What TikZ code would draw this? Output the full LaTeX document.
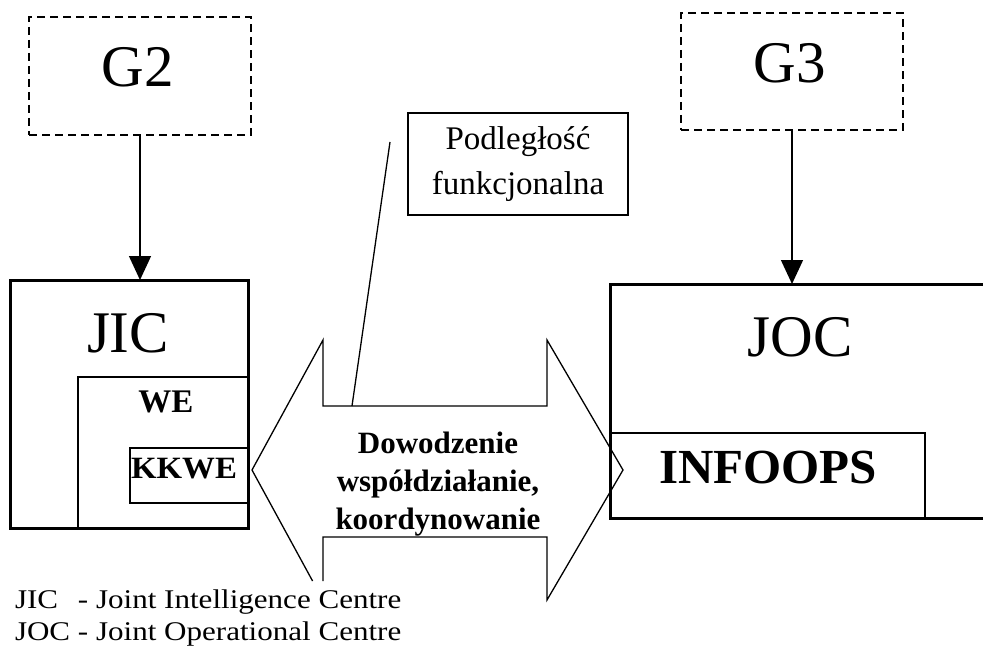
\documentclass[tikz,border=0pt]{standalone}
\usepackage{fontspec}
\setmainfont{Liberation Serif}
\usetikzlibrary{arrows.meta}
\newcommand\fsz[2]{\fontsize{#1}{#2}\selectfont}
\begin{document}
\begin{tikzpicture}[x=1pt,y=-1pt,
  every node/.style={inner sep=0pt, outer sep=0pt},
  boxat/.style={anchor=north west, rectangle},
  solidbox/.style={boxat, draw, line width=1.3pt},
  heavybox/.style={boxat, draw, line width=3pt},
  dashbox/.style={boxat, draw, line width=1.5pt, dash pattern=on 8pt off 5pt},
  feed/.style={line width=1.4pt, -{Triangle[length=24pt,width=22pt]}},
  outline/.style={line width=1.3pt, line join=miter},
  biglabel/.style={anchor=base, font=\fsz{59}{70}},
  legend/.style={anchor=base west, font=\fsz{27}{32}},
]
\useasboundingbox (0,0) rectangle (983,650);
\clip (0,0) rectangle (983,650);

% superior cells (dashed)
\node[dashbox, minimum width=222pt, minimum height=118pt] (g2) at (29,17) {};
\node[dashbox, minimum width=222pt, minimum height=117pt] (g3) at (681,13) {};
\node[biglabel] (g2t) at (138,87) {G2};
\node[biglabel] (g3t) at (790,83) {G3};

% functional subordination note
\node[draw, line width=1.3pt, minimum width=220pt, minimum height=102pt,
      align=center, font=\fsz{33}{45}] (pod) at (518,164) {Podległość\\funkcjonalna};

% double arrow: command, cooperation, coordination
\coordinate (tipL) at (252,470);
\coordinate (tipR) at (623,470);
\coordinate (cut1) at (312.6,581);
\coordinate (cut2) at (323,581);
\draw[outline] (cut1) -- (tipL) -- (323,340) -- (323,406) -- (547,406) -- (547,340)
  -- (tipR) -- (547,600) -- (547,537) -- (323,537) -- (cut2);
\node[align=center, font=\bfseries\fsz{31}{38}] (cmd) at (438,484)
  {Dowodzenie\\współdziałanie,\\koordynowanie};

% pointer from the note to the arrow
\coordinate (ptrtop) at (390,142);
\coordinate (ptrend) at (352,406);
\draw[outline] (ptrtop) -- (ptrend);

% JIC with nested cells
\node[solidbox, minimum width=170pt, minimum height=151pt] (we) at (78,377) {};
\node[solidbox, minimum width=118pt, minimum height=55pt] (kkwe) at (130,448) {};
\node[heavybox, minimum width=238pt, minimum height=248pt] (jic) at (10,280) {};
\node[biglabel] (jict) at (128,352) {JIC};
\node[anchor=base, font=\bfseries\fsz{33}{40}] (wet) at (166,412) {WE};
\node[anchor=base, font=\bfseries\fsz{31}{38}] (kkwet) at (184,478) {\scalebox{1.06}[1]{KKWE}};

% JOC with INFOOPS cell
\node[solidbox, minimum width=315pt, minimum height=85pt] (infoops) at (610,433) {};
\node[heavybox, minimum width=400pt, minimum height=234pt] (joc) at (610,284) {};
\node[biglabel] (joct) at (800,356) {JOC};
\node[anchor=base, font=\bfseries\fsz{49}{58}] (infoopst) at (768,483) {INFOOPS};

% subordination arrows
\draw[feed] (g2.south) -- (g2.south |- jic.north);
\draw[feed] (g3.south) -- (g3.south |- joc.north);

% legend
\node[legend] (leg1) at (15,608)
  {\scalebox{1.15}[1]{\rlap{JIC}\phantom{JOC} - Joint Intelligence Centre}};
\node[legend] (leg2) at (15,640)
  {\scalebox{1.15}[1]{JOC - Joint Operational Centre}};
\end{tikzpicture}
\end{document}
